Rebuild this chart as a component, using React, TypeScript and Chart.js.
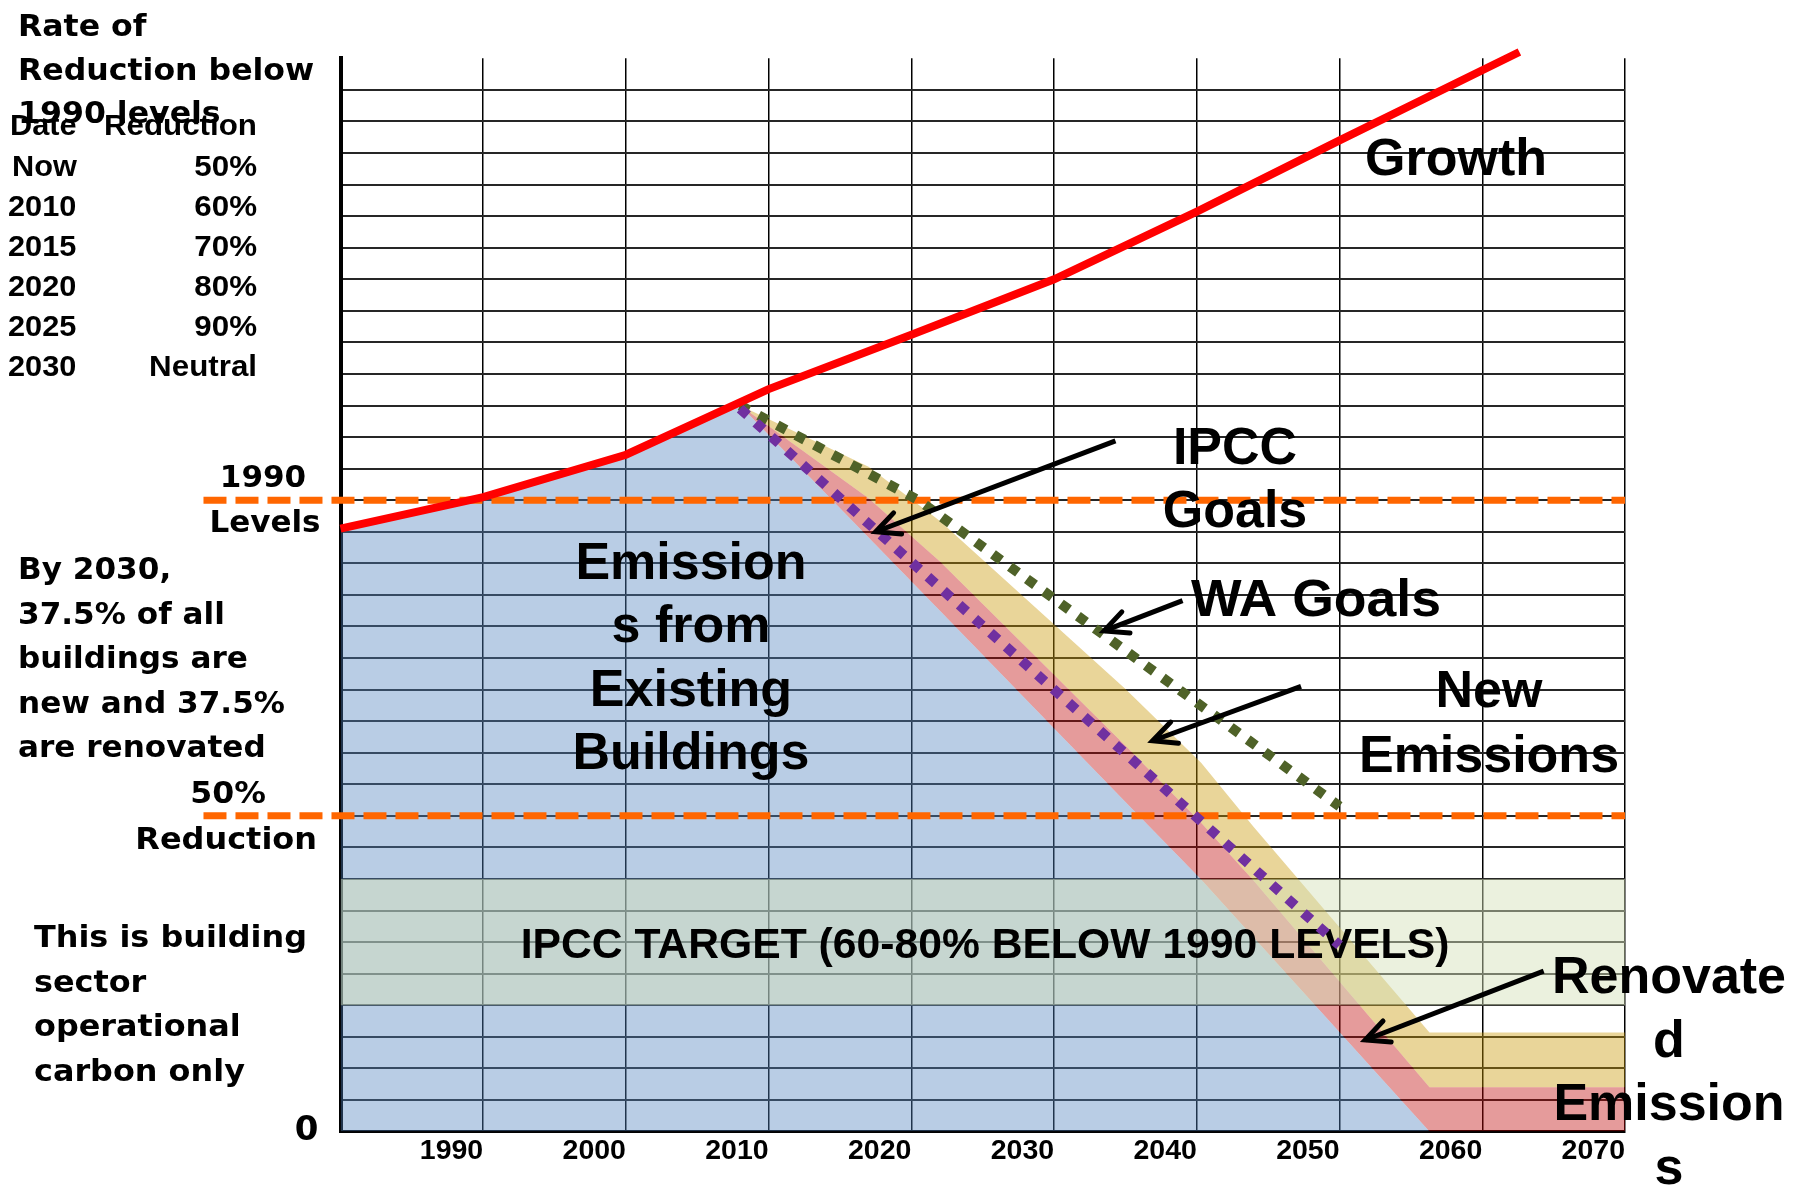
import React, { useEffect, useRef } from 'react';
import { Chart, registerables } from 'chart.js';

Chart.register(...registerables);

// ---- data (years on x, emissions index with 1990 = 100 on y) ----
const areaYears = [1980, 1990, 2000, 2008, 2017, 2022, 2035, 2040.3, 2044, 2056.3, 2070];
const existingBuildings = [95.5, 100.5, 107.2, 115, 94.1, 82.5, 52.2, 39.9, 30.7, 0, 0];
const renovatedEmissions = [0, 0, 0, 0, 6.2, 7.8, 8.9, 9, 9, 7, 7];
const newEmissions = [0, 0, 0, 0, 5, 6.4, 9, 9.5, 8.5, 8.7, 8.7];

const growthYears = [1980, 1990, 2000, 2010, 2020, 2030, 2040, 2050, 2062.6];
const growthValues = [95.5, 100.5, 107.2, 117.6, 126.2, 135, 145.7, 157, 171];

const waGoalYears = [2008, 2020.5, 2050];
const waGoalValues = [115, 100, 51.5];

const ipccGoalYears = [2008, 2050];
const ipccGoalValues = [114.5, 29.5];

const levelLineYears = [1970.4, 2070];
const level1990Values = [100, 100];
const level50Values = [50, 50];

const ipccTargetYears = [1980, 2070];
const ipccTargetHigh = [40, 40];
const ipccTargetLow = 20;

const tableRows = [
  ['Now', '50%'],
  ['2010', '60%'],
  ['2015', '70%'],
  ['2020', '80%'],
  ['2025', '90%'],
  ['2030', 'Neutral'],
];

const pts = (xs: number[], ys: number[]) => xs.map((x, i) => ({ x, y: ys[i] }));

const ARIAL = '"Liberation Sans", Arial, sans-serif';
const VERD = '"DejaVu Sans", Verdana, sans-serif';

function txt(ctx: CanvasRenderingContext2D, s: string, x: number, y: number, font: string, align: CanvasTextAlign = 'left', sx = 1) {
  ctx.save();
  ctx.font = font;
  ctx.textAlign = align;
  ctx.textBaseline = 'alphabetic';
  ctx.fillStyle = '#000';
  ctx.translate(x, y);
  ctx.scale(sx, 1);
  ctx.fillText(s, 0, 0);
  ctx.restore();
}

function arrow(ctx: CanvasRenderingContext2D, x1: number, y1: number, x2: number, y2: number) {
  ctx.save();
  ctx.strokeStyle = '#000';
  ctx.lineWidth = 5;
  ctx.lineCap = 'butt';
  ctx.beginPath();
  ctx.moveTo(x1, y1);
  ctx.lineTo(x2, y2);
  ctx.stroke();
  const a = Math.atan2(y1 - y2, x1 - x2);
  const L = 26;
  const spread = 0.45;
  ctx.lineCap = 'round';
  ctx.beginPath();
  ctx.moveTo(x2 + L * Math.cos(a + spread), y2 + L * Math.sin(a + spread));
  ctx.lineTo(x2, y2);
  ctx.lineTo(x2 + L * Math.cos(a - spread), y2 + L * Math.sin(a - spread));
  ctx.stroke();
  ctx.restore();
}

const BAND_INDEX = 3;

const annotationPlugin = {
  id: 'annotations',
  afterDatasetDraw(chart: any, args: any) {
    if (args.index !== BAND_INDEX) return;
    const ctx = chart.ctx;
    txt(ctx, 'IPCC TARGET (60-80% BELOW 1990 LEVELS)', 985, 958, `bold 42px ${ARIAL}`, 'center', 1.016);
  },
  afterDraw(chart: any) {
    const ctx: CanvasRenderingContext2D = chart.ctx;
    const xs = chart.scales.x;
    const ys = chart.scales.y;
    const A52 = `bold 52px ${ARIAL}`;
    // left column
    const title = `bold 29.5px ${VERD}`;
    txt(ctx, 'Rate of', 18, 36, title, 'left', 1.07);
    txt(ctx, 'Reduction below', 18, 80, title, 'left', 1.07);
    txt(ctx, '1990 levels', 18, 123, title, 'left', 1.07);
    const tf = `bold 29px ${ARIAL}`;
    txt(ctx, 'Date', 10, 135, tf, 'left', 1.06);
    txt(ctx, 'Reduction', 257, 135, tf, 'right', 1.08);
    tableRows.forEach((r, i) => {
      const by = 176 + i * 40;
      txt(ctx, r[0], i === 0 ? 12 : 8, by, tf, 'left', 1.06);
      txt(ctx, r[1], 257, by, tf, 'right', 1.08);
    });
    const vf = `bold 31px ${VERD}`;
    txt(ctx, '1990', 263, 487, vf, 'center');
    txt(ctx, 'Levels', 265, 532, vf, 'center');
    const vf30 = `bold 30.5px ${VERD}`;
    ['By 2030,', '37.5% of all', 'buildings are', 'new and 37.5%', 'are renovated'].forEach((s, i) =>
      txt(ctx, s, 18, 579 + i * 44.6, vf30, 'left', 1.02));
    txt(ctx, '50%', 266, 803, vf, 'right', 1.02);
    txt(ctx, 'Reduction', 317, 849, vf, 'right', 1.03);
    ['This is building', 'sector', 'operational', 'carbon only'].forEach((s, i) =>
      txt(ctx, s, 34, 947 + i * 44.6, vf30, 'left', 1.045));

    // in-chart labels
    ['Emission', 's from', 'Existing', 'Buildings'].forEach((s, i) => txt(ctx, s, 691, 579 + i * 63.3, A52, 'center'));
    txt(ctx, 'Growth', 1456, 175, A52, 'center');
    txt(ctx, 'IPCC', 1235, 464, A52, 'center');
    txt(ctx, 'Goals', 1235, 527, A52, 'center');
    txt(ctx, 'WA Goals', 1191, 616, A52, 'left', 1.03);
    txt(ctx, 'New', 1489, 707, A52, 'center');
    txt(ctx, 'Emissions', 1489, 772, A52, 'center');
    ['Renovate', 'd', 'Emission', 's'].forEach((s, i) => txt(ctx, s, 1669, 993 + i * 63.5, A52, 'center'));

    // arrows (in data coordinates)
    const arrows = [
      [2034.3, 109.4, 2017.5, 95.0],
      [2039.0, 84.1, 2033.5, 79.3],
      [2047.3, 70.5, 2036.9, 61.9],
      [2064.3, 25.4, 2051.8, 14.5],
    ];
    arrows.forEach(([a, b, c, d]) =>
      arrow(ctx, xs.getPixelForValue(a), ys.getPixelForValue(b), xs.getPixelForValue(c), ys.getPixelForValue(d)));
  },
};

export default function App() {
  const ref = useRef<HTMLCanvasElement | null>(null);
  useEffect(() => {
    document.body.style.margin = '0';
    const canvas = ref.current!;
    const dotted = { borderWidth: 10, borderDash: [10, 11], borderCapStyle: 'butt' as const };
    const chart = new Chart(canvas, {
      type: 'line',
      data: {
        datasets: [
          {
            label: 'Emissions from Existing Buildings',
            data: pts(areaYears, existingBuildings),
            stack: 'areas',
            fill: 'origin',
            backgroundColor: 'rgba(79,129,189,0.4)',
            borderWidth: 0,
            order: 6,
          },
          {
            label: 'Renovated Emissions',
            data: pts(areaYears, renovatedEmissions),
            stack: 'areas',
            fill: '-1',
            backgroundColor: 'rgba(190,5,5,0.4)',
            borderWidth: 0,
            order: 7,
          },
          {
            label: 'New Emissions',
            data: pts(areaYears, newEmissions),
            stack: 'areas',
            fill: '-1',
            backgroundColor: 'rgba(200,150,0,0.4)',
            borderWidth: 0,
            order: 8,
          },
          {
            label: 'IPCC Target',
            data: pts(ipccTargetYears, ipccTargetHigh),
            stack: 'band',
            fill: { value: ipccTargetLow },
            backgroundColor: 'rgba(212,225,185,0.47)',
            borderWidth: 0,
            order: 5,
          },
          {
            label: '1990 Levels',
            data: pts(levelLineYears, level1990Values),
            stack: 'l1',
            fill: false,
            borderColor: '#FF6600',
            borderWidth: 7,
            borderDash: [23, 9],
            clip: false,
            order: 4,
          },
          {
            label: '50% Reduction',
            data: pts(levelLineYears, level50Values),
            stack: 'l2',
            fill: false,
            borderColor: '#FF6600',
            borderWidth: 7,
            borderDash: [23, 9],
            clip: false,
            order: 3,
          },
          {
            label: 'WA Goals',
            data: pts(waGoalYears, waGoalValues),
            stack: 'wa',
            fill: false,
            borderColor: '#4F6228',
            ...dotted,
            order: 2,
          },
          {
            label: 'IPCC Goals',
            data: pts(ipccGoalYears, ipccGoalValues),
            stack: 'ipcc',
            fill: false,
            borderColor: '#7030A0',
            ...dotted,
            order: 1,
          },
          {
            label: 'Growth',
            data: pts(growthYears, growthValues),
            stack: 'growth',
            fill: false,
            borderColor: '#FF0000',
            borderWidth: 8,
            clip: false,
            order: 0,
          },
        ] as any,
      },
      options: {
        animation: false,
        responsive: false,
        events: [],
        elements: { point: { radius: 0 }, line: { tension: 0, borderJoinStyle: 'miter' } },
        layout: { padding: { top: 58.3, right: 181, left: 0, bottom: 0 } },
        plugins: { legend: { display: false }, tooltip: { enabled: false } },
        scales: {
          x: {
            type: 'linear',
            min: 1980,
            max: 2070,
            afterFit: (s: any) => { s.height = 57.5; },
            ticks: {
              stepSize: 10,
              align: 'end',
              padding: 3,
              color: '#000',
              font: { family: ARIAL, size: 28.5, weight: 'bold' },
              callback: (v: any) => (v === 1980 ? '' : String(v)),
              maxRotation: 0,
              autoSkip: false,
            },
            grid: { color: '#000', lineWidth: 1.5, drawTicks: false },
            border: { display: true, color: '#000', width: 3 },
          },
          y: {
            type: 'linear',
            min: 0,
            max: 170,
            stacked: true,
            afterFit: (s: any) => { s.width = 340.5; },
            ticks: {
              stepSize: 5,
              padding: 22,
              color: '#000',
              font: { family: VERD, size: 34, weight: 'bold' },
              callback: (v: any) => (v === 0 ? '0' : ''),
              autoSkip: false,
            },
            grid: {
              color: (c: any) => (c.tick && c.tick.value === 170 ? 'rgba(0,0,0,0)' : '#262626'),
              lineWidth: 2,
              drawTicks: false,
            },
            border: { display: true, color: '#000', width: 4 },
          },
        },
      } as any,
      plugins: [annotationPlugin],
    });
    return () => chart.destroy();
  }, []);
  return (
    <div style={{ position: 'absolute', left: 0, top: 0, width: 1806, height: 1189, background: '#fff' }}>
      <canvas ref={ref} width={1806} height={1189} style={{ display: 'block' }} />
    </div>
  );
}
